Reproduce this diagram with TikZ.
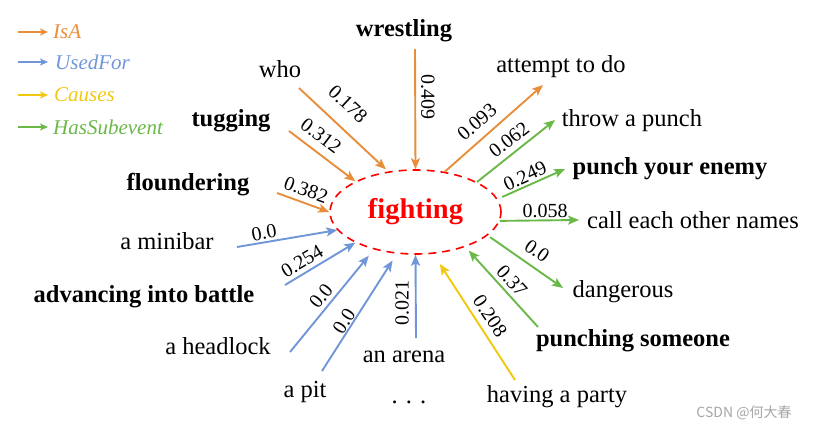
\documentclass[tikz,border=0pt]{standalone}
\usepackage{fontspec}
\setmainfont{Liberation Serif}
\newfontfamily\cjkfont{Noto Sans CJK SC}
\usetikzlibrary{arrows.meta,shapes.geometric}
\definecolor{cIsA}{RGB}{232,142,58}
\definecolor{cUsed}{RGB}{112,150,218}
\definecolor{cCause}{RGB}{242,200,15}
\definecolor{cSub}{RGB}{106,184,72}
\definecolor{cMark}{RGB}{165,165,165}
\tikzset{
  lbl/.style={font=\fontsize{24.5}{28}\selectfont, inner sep=0pt},
  blbl/.style={font=\fontsize{24.5}{28}\selectfont\bfseries, inner sep=0pt},
  wt/.style={font=\fontsize{20}{22}\selectfont, inner sep=0pt},
  lg/.style={font=\fontsize{21}{23}\selectfont\itshape, inner sep=0pt, anchor=west},
  rel/.style={line width=1.9pt, -{Stealth[length=11pt,width=9pt,inset=2.5pt]}},
  lrel/.style={line width=1.9pt, -{Stealth[length=8pt,width=7pt,inset=2pt]}},
  isa/.style={rel, draw=cIsA, fill=cIsA},
  used/.style={rel, draw=cUsed, fill=cUsed},
  cause/.style={rel, draw=cCause, fill=cCause},
  sub/.style={rel, draw=cSub, fill=cSub},
}
\begin{document}
\begin{tikzpicture}[x=1pt,y=-1pt]
\useasboundingbox (0,0) rectangle (824,431);

% legend
\node[lg, text=cIsA] (lgIsA) at (53,32) {IsA};
\node[lg, text=cUsed] (lgUsed) at (55,62) {UsedFor};
\node[lg, text=cCause] (lgCause) at (54,95) {Causes};
\node[lg, text=cSub] (lgSub) at (53,127) {HasSubevent};
\coordinate (lgIsA0) at (18,32);
\coordinate (lgUsed0) at (18,62);
\coordinate (lgCause0) at (18,95);
\coordinate (lgSub0) at (18,127);
\draw[lrel, draw=cIsA, fill=cIsA, shorten >=5pt] (lgIsA0) -- (lgIsA.west);
\draw[lrel, draw=cUsed, fill=cUsed, shorten >=7pt] (lgUsed0) -- (lgUsed.west);
\draw[lrel, draw=cCause, fill=cCause, shorten >=6pt] (lgCause0) -- (lgCause.west);
\draw[lrel, draw=cSub, fill=cSub, shorten >=5pt] (lgSub0) -- (lgSub.west);

% centre
\node[ellipse, draw=red, dashed, dash pattern=on 8pt off 6pt, line width=1.6pt,
      minimum width=171pt, minimum height=84pt, inner sep=0pt,
      font=\fontsize{28.5}{30}\selectfont\bfseries, text=red] (fight) at (415.5,212) {fighting};

% labels
\node[blbl] (wrestling) at (404,31) {wrestling};
\node[lbl] (who) at (280,69) {who};
\node[blbl] (tugging) at (231,121) {tugging};
\node[blbl] (floundering) at (188,185) {floundering};
\node[lbl] (minibar) at (167,241) {a minibar};
\node[blbl] (advancing) at (144,297) {advancing into battle};
\node[lbl] (headlock) at (218,346) {a headlock};
\node[lbl] (pit) at (305,392) {a pit};
\node[lbl] (arena) at (404,357) {an arena};
\node[lbl] (dots) at (409,402) {. . .};
\node[lbl] (party) at (557,397) {having a party};
\node[blbl] (punching) at (633,341) {punching someone};
\node[lbl] (dangerous) at (623,292) {dangerous};
\node[lbl] (names) at (693,220) {call each other names};
\node[blbl] (enemy) at (670,169) {punch your enemy};
\node[lbl] (throw) at (632,121) {throw a punch};
\node[lbl] (attempt) at (561,67) {attempt to do};

% connector free ends
\coordinate (s-wrestling) at (415,49);
\coordinate (s-who) at (299,88);
\coordinate (s-tug) at (289,131);
\coordinate (s-flo) at (277,193);
\coordinate (e-att) at (543,85);
\coordinate (e-throw) at (555,120);
\coordinate (e-enemy) at (565,169);
\coordinate (e-names) at (579,220);
\coordinate (e-dang) at (563,288);
\coordinate (s-punching) at (538,327);
\coordinate (s-party) at (515,380);
\coordinate (s-arena) at (416,338);
\coordinate (s-pit) at (322,371);
\coordinate (s-head) at (290,352);
\coordinate (s-adv) at (285,285);
\coordinate (s-mini) at (237,247);

% IsA
\draw[isa] (s-wrestling) -- (fight.90);
\draw[isa, shorten >=3pt] (s-who) -- (fight.124.7);
\draw[isa] (s-tug) -- (fight.153.2);
\draw[isa] (s-flo) -- (fight.180);
\draw[isa] (fight.54) -- (e-att);
% HasSubevent
\draw[sub] (fight.26) -- (e-throw);
\draw[sub, shorten <=5pt] (fight.9.1) -- (e-enemy);
\draw[sub] (fight.-6.7) -- (e-names);
\draw[sub, shorten <=3pt] (fight.-18.5) -- (e-dang);
\draw[sub, shorten >=5pt] (s-punching) -- (fight.-35.9);
% Causes
\draw[cause, shorten >=12pt] (s-party) -- (fight.-67);
% UsedFor
\draw[used] (s-arena) -- (fight.-90);
\draw[used, shorten >=8pt] (s-pit) -- (fight.-114.7);
\draw[used, shorten >=8pt] (s-head) -- (fight.-138.4);
\draw[used] (s-adv) -- (fight.-153.6);
\draw[used] (s-mini) -- (fight.-167.4);

% weights
\node[wt, rotate=-90] (w-wrestling) at (428,97) {0.409};
\node[wt, rotate=-43] (w-who) at (348,104) {0.178};
\node[wt, rotate=-37] (w-tug) at (321,136) {0.312};
\node[wt, rotate=-20] (w-flo) at (306,190) {0.382};
\node[wt, rotate=41] (w-att) at (477,122) {0.093};
\node[wt, rotate=38] (w-throw) at (509,140) {0.062};
\node[wt, rotate=25] (w-enemy) at (525,176) {0.249};
\node[wt] (w-names) at (545,211) {0.058};
\node[wt, rotate=-35] (w-dang) at (537,251) {0.0};
\node[wt, rotate=-48] (w-punching) at (512,281) {0.37};
\node[wt, rotate=-56] (w-party) at (490,316) {0.208};
\node[wt, rotate=90] (w-arena) at (402,303) {0.021};
\node[wt, rotate=57] (w-pit) at (344,321) {0.0};
\node[wt, rotate=51] (w-head) at (321,296) {0.0};
\node[wt, rotate=31] (w-adv) at (302,261) {0.254};
\node[wt, rotate=10] (w-mini) at (264,233) {0.0};

% watermark
\node[font=\cjkfont\fontsize{14}{16}\selectfont, text=cMark, inner sep=0pt] (mark) at (744,413) {CSDN @何大春};
\end{tikzpicture}
\end{document}
